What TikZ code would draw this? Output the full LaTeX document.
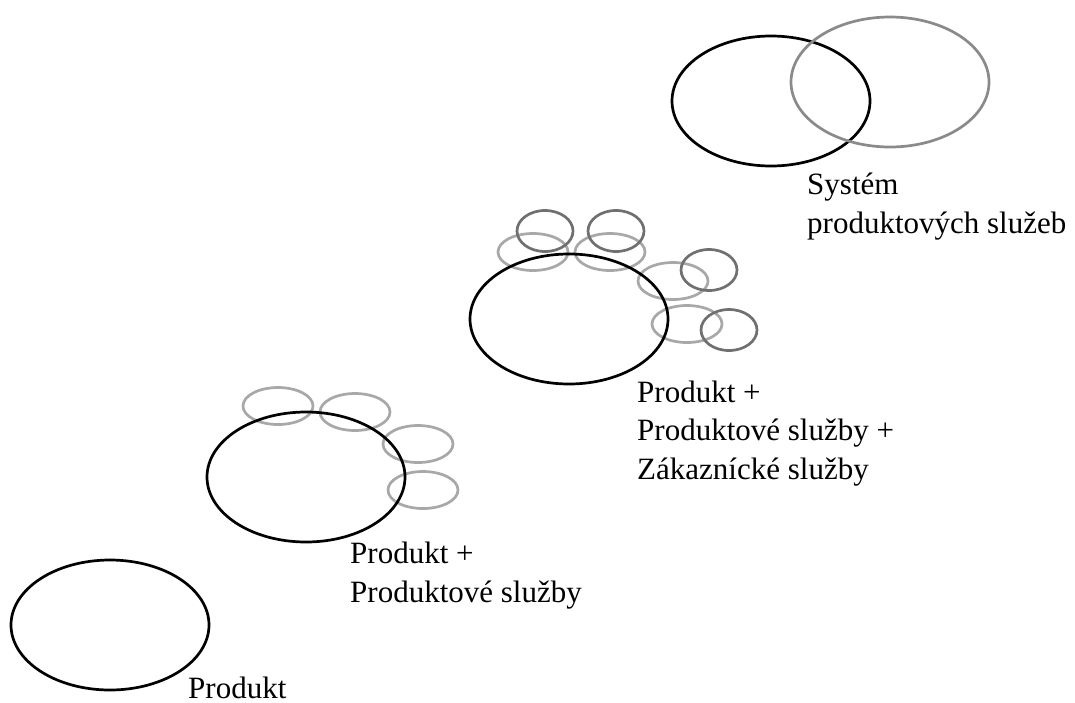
\documentclass[tikz,border=0pt]{standalone}
\usepackage{fontspec}
\setmainfont{Liberation Serif}
\usepackage{xcolor}
\usetikzlibrary{shapes.geometric}

\definecolor{ringlight}{RGB}{168,168,168}
\definecolor{ringdark}{RGB}{112,112,112}
\definecolor{ringmid}{RGB}{138,138,138}

\begin{document}
\begin{tikzpicture}[
  x=1pt, y=-1pt,
  mainring/.style={draw=black, ellipse, line width=2.7pt, minimum width=198pt, minimum height=130pt, inner sep=0pt},
  sysring/.style={mainring, draw=ringmid},
  lightring/.style={draw=ringlight, ellipse, line width=2.7pt, minimum width=70pt, minimum height=37pt, inner sep=0pt},
  darkring/.style={draw=ringdark, ellipse, line width=2.7pt, minimum width=56pt, minimum height=41pt, inner sep=0pt},
  caption/.style={anchor=base west, align=left, inner sep=0pt, font=\fontsize{31}{38.5}\selectfont}
]
\useasboundingbox (0,0) rectangle (1075,702);

% stage 1
\node[mainring] (prod) at (110,625) {};
\node[caption] (prodtxt) at (188,698) {Produkt};

% stage 2
\node[lightring] (ps1) at (278,406) {};
\node[lightring] (ps2) at (355,412) {};
\node[lightring] (ps3) at (418,444) {};
\node[lightring] (ps4) at (423,490) {};
\node[mainring] (prodps) at (306,477) {};
\node[caption] (prodpstxt) at (350,602) {Produkt +\\Produktové služby};

% stage 3
\node[lightring] (zs1) at (533,252) {};
\node[lightring] (zs2) at (610,252) {};
\node[lightring] (zs3) at (673,281) {};
\node[lightring] (zs4) at (687,324) {};
\node[darkring] (cs1) at (545,231) {};
\node[darkring] (cs2) at (616,231) {};
\node[darkring] (cs3) at (709,270) {};
\node[darkring] (cs4) at (729,330) {};
\node[mainring] (prodzs) at (569,319) {};
\node[caption] (prodzstxt) at (637,479) {Produkt +\\Produktové služby +\\Zákaznícké služby};

% stage 4
\node[mainring] (sysprod) at (771,101) {};
\node[sysring] (sysserv) at (890,82) {};
\node[caption] (systxt) at (807,233) {Systém\\produktových služeb};
\end{tikzpicture}
\end{document}
